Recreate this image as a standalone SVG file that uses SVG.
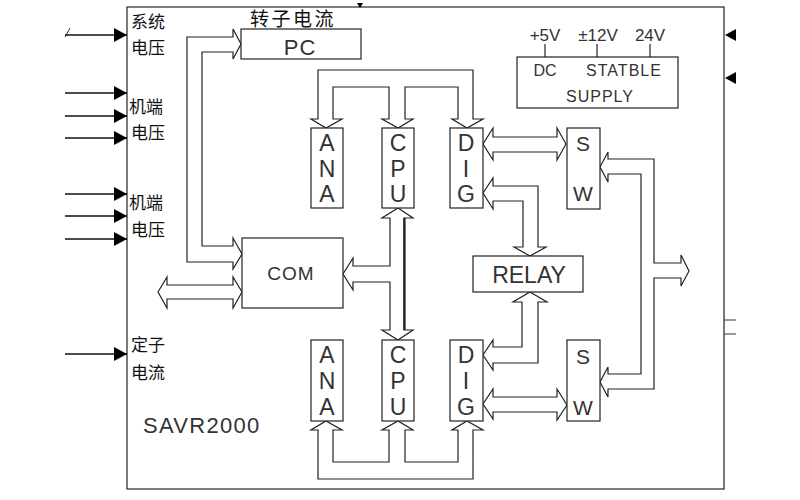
<svg xmlns="http://www.w3.org/2000/svg" width="800" height="500" viewBox="0 0 800 500">
<defs>
<style>
.w{fill:none;stroke:#222;stroke-width:1.2;stroke-linejoin:miter}
.box{fill:#fff;stroke:#222;stroke-width:1.2}
.in{stroke:#111;stroke-width:1.3}
.t{font-family:"Liberation Sans",Arial,sans-serif;fill:#333;text-anchor:middle}
.cn{font-family:"Noto Sans CJK SC",sans-serif;fill:#111;font-size:17px}
</style>
<marker id="ah" markerWidth="13" markerHeight="14" refX="13" refY="7" orient="auto" markerUnits="userSpaceOnUse"><path d="M0,0 L13,7 L0,14 Z" fill="#000"/></marker>
</defs>
<rect width="800" height="500" fill="#fff"/>
<g id="frame">
<rect x="127" y="7" width="597" height="482" fill="none" stroke="#333" stroke-width="1.3"/>
<path d="M357,3 L363,3 L360,8 Z" fill="#000"/>
<path d="M725,35 L736,29 L736,41 Z" fill="#000"/>
<path d="M725,78 L736,72 L736,84 Z" fill="#000"/>
<line x1="724" y1="320" x2="736" y2="320" stroke="#333"/>
<line x1="724" y1="334" x2="736" y2="334" stroke="#333"/>
<line x1="65" y1="37" x2="70" y2="28" stroke="#333"/>
<text class="t" x="143" y="433" font-size="22" letter-spacing="1.3" style="text-anchor:start">SAVR2000</text>
</g>
<g id="inputs">
<line class="in" x1="65" y1="35" x2="127" y2="35" marker-end="url(#ah)"/>
<line class="in" x1="65" y1="93" x2="127" y2="93" marker-end="url(#ah)"/>
<line class="in" x1="65" y1="116" x2="127" y2="116" marker-end="url(#ah)"/>
<line class="in" x1="65" y1="138" x2="127" y2="138" marker-end="url(#ah)"/>
<line class="in" x1="65" y1="194" x2="127" y2="194" marker-end="url(#ah)"/>
<line class="in" x1="65" y1="216" x2="127" y2="216" marker-end="url(#ah)"/>
<line class="in" x1="65" y1="239" x2="127" y2="239" marker-end="url(#ah)"/>
<line class="in" x1="65" y1="354" x2="127" y2="354" marker-end="url(#ah)"/>
<text class="cn" x="131" y="28">系统</text>
<text class="cn" x="131" y="54">电压</text>
<text class="cn" x="129" y="113">机端</text>
<text class="cn" x="131" y="139">电压</text>
<text class="cn" x="129" y="209">机端</text>
<text class="cn" x="131" y="236">电压</text>
<text class="cn" x="131" y="351">定子</text>
<text class="cn" x="131" y="379">电流</text>
</g>
<g id="connectors">
<path class="w" d="M233,29 L241,44 L233,59 L233,52 L202,52 L202,246 L233,246 L233,238 L242,254 L233,269 L233,262 L187,262 L187,37 L233,37 Z"/>
<path class="w" d="M167,277 L158,292 L167,308 L167,299 L233,299 L233,308 L242,292 L233,277 L233,285 L167,285 Z"/>
<path class="w" d="M318,119 L318,70 L473,70 L473,119 L483,119 L467,128 L452,119 L458,119 L458,87 L405,87 L405,119 L413,119 L398,128 L382,119 L389,119 L389,87 L333,87 L333,119 L342,119 L326,128 L311,119 Z"/>
<path class="w" d="M318,430 L318,479 L473,479 L473,430 L483,430 L467,421 L452,430 L458,430 L458,462 L405,462 L405,430 L413,430 L398,421 L382,430 L389,430 L389,462 L333,462 L333,430 L342,430 L326,421 L311,430 Z"/>
<path class="w" d="M398,208 L413,218 L404,218 L404,330 L413,330 L398,340 L382,330 L390,330 L390,282 L353,282 L353,290 L343,274 L353,258 L353,266 L390,266 L390,218 L382,218 Z"/>
<line x1="404.5" y1="218" x2="404.5" y2="330" stroke="#222" stroke-width="2.2"/>
<path class="w" d="M483,144 L493,128 L493,137 L557,137 L557,128 L566,144 L557,160 L557,152 L493,152 L493,160 Z"/>
<path class="w" d="M483,193 L493,178 L493,186 L538,186 L538,247 L546,247 L530,256 L514,247 L523,247 L523,201 L493,201 L493,209 Z"/>
<path class="w" d="M530,292 L547,302 L538,302 L538,363 L493,363 L493,370 L483,355 L493,340 L493,347 L522,347 L522,302 L513,302 Z"/>
<path class="w" d="M483,404 L493,389 L493,397 L557,397 L557,389 L567,405 L557,420 L557,412 L493,412 L493,419 Z"/>
<path class="w" d="M600,167 L608,152 L608,159 L654,159 L654,263 L681,263 L681,255 L689,271 L681,286 L681,278 L654,278 L654,389 L608,389 L608,397 L600,382 L608,367 L608,374 L641,374 L641,174 L608,174 L608,182 Z"/>
</g>
<g id="pc">
<rect class="box" x="241" y="29" width="120" height="30"/>
<text class="t" x="300" y="55" font-size="22" letter-spacing="1">PC</text>
<text class="cn" x="250" y="26" font-size="19" letter-spacing="2.5" style="font-size:19px">转子电流</text>
</g>
<g id="com">
<rect class="box" x="242" y="238" width="101" height="70"/>
<text class="t" x="291" y="280" font-size="19" letter-spacing="1">COM</text>
</g>
<g id="ana1">
<rect class="box" x="311" y="128" width="32" height="80"/>
<text class="t" x="327" y="151" font-size="23">A</text>
<text class="t" x="327" y="177" font-size="23">N</text>
<text class="t" x="327" y="202" font-size="23">A</text>
</g>
<g id="cpu1">
<rect class="box" x="382" y="128" width="32" height="80"/>
<text class="t" x="398" y="151" font-size="23">C</text>
<text class="t" x="398" y="177" font-size="23">P</text>
<text class="t" x="398" y="202" font-size="23">U</text>
</g>
<g id="dig1">
<rect class="box" x="450" y="128" width="33" height="80"/>
<text class="t" x="466" y="151" font-size="23">D</text>
<text class="t" x="466" y="177" font-size="23">I</text>
<text class="t" x="466" y="202" font-size="23">G</text>
</g>
<g id="ana2">
<rect class="box" x="311" y="340" width="32" height="81"/>
<text class="t" x="327" y="363" font-size="23">A</text>
<text class="t" x="327" y="389" font-size="23">N</text>
<text class="t" x="327" y="415" font-size="23">A</text>
</g>
<g id="cpu2">
<rect class="box" x="382" y="340" width="32" height="81"/>
<text class="t" x="398" y="363" font-size="23">C</text>
<text class="t" x="398" y="389" font-size="23">P</text>
<text class="t" x="398" y="415" font-size="23">U</text>
</g>
<g id="dig2">
<rect class="box" x="450" y="340" width="33" height="81"/>
<text class="t" x="466" y="363" font-size="23">D</text>
<text class="t" x="466" y="389" font-size="23">I</text>
<text class="t" x="466" y="415" font-size="23">G</text>
</g>
<g id="sw1">
<rect class="box" x="567" y="128" width="33" height="81"/>
<text class="t" x="583" y="151" font-size="21">S</text>
<text class="t" x="583" y="201" font-size="21">W</text>
</g>
<g id="sw2">
<rect class="box" x="567" y="340" width="33" height="81"/>
<text class="t" x="583" y="364" font-size="21">S</text>
<text class="t" x="583" y="415" font-size="21">W</text>
</g>
<g id="relay">
<rect class="box" x="473" y="256" width="110" height="36"/>
<text class="t" x="529" y="283" font-size="23">RELAY</text>
</g>
<g id="supply">
<rect class="box" x="517" y="57" width="161" height="51"/>
<line x1="545" y1="44" x2="545" y2="57" stroke="#222" stroke-width="1.2"/>
<line x1="597" y1="44" x2="597" y2="57" stroke="#222" stroke-width="1.2"/>
<line x1="650" y1="44" x2="650" y2="57" stroke="#222" stroke-width="1.2"/>
<text class="t" x="545" y="41" font-size="17">+5V</text>
<text class="t" x="598" y="41" font-size="17">±12V</text>
<text class="t" x="650" y="41" font-size="17">24V</text>
<text class="t" x="545" y="76" font-size="16">DC</text>
<text class="t" x="624" y="76" font-size="16" letter-spacing="1">STATBLE</text>
<text class="t" x="600" y="102" font-size="16" letter-spacing="1">SUPPLY</text>
</g>
</svg>
